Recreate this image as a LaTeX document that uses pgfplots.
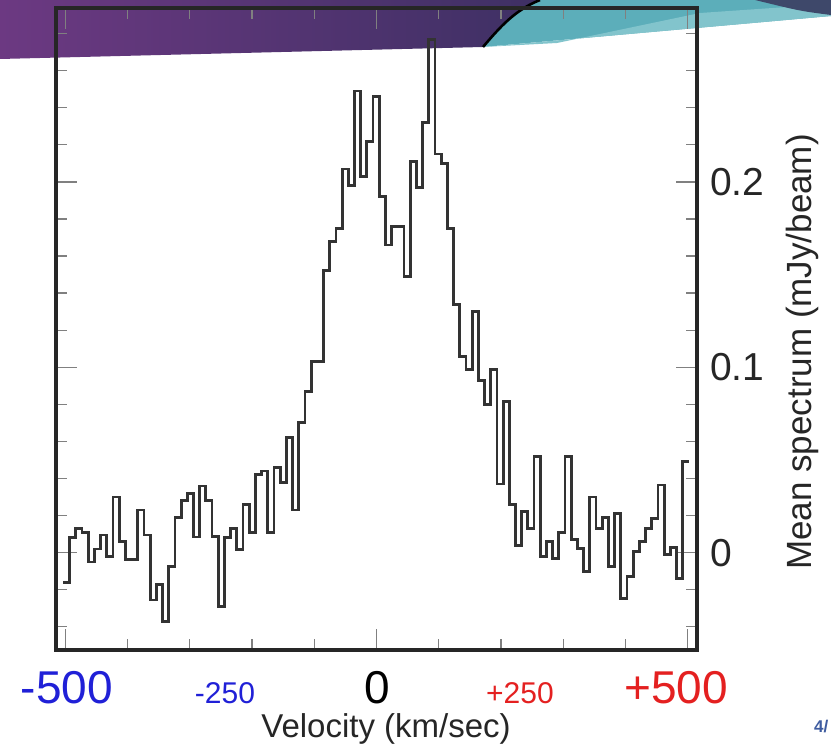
\documentclass[border=0pt]{standalone}
\usepackage{pgfplots}
\pgfplotsset{compat=1.18}
\usepackage{fontspec}
\setmainfont{Liberation Sans}

\definecolor{ribbonL}{RGB}{108,57,130}
\definecolor{ribbonR}{RGB}{62,48,100}
\definecolor{tealD}{RGB}{92,174,186}
\definecolor{tealL}{RGB}{130,196,204}
\definecolor{slate}{RGB}{62,72,106}
\definecolor{tickblue}{RGB}{32,32,215}
\definecolor{tickred}{RGB}{228,32,32}
\definecolor{pagenum}{RGB}{62,92,160}

\begin{document}
\begin{tikzpicture}[x=1pt,y=1pt]
\useasboundingbox (0,0) rectangle (831,750);
\fill[white] (0,0) rectangle (831,750);

% slide decoration behind the plot
\shade[left color=ribbonL, right color=ribbonR]
  (0,750) -- (540,750) .. controls (515,740) and (500,723) .. (483,703) -- (0,691) -- cycle;
\fill[tealD] (483,703) .. controls (500,723) and (515,740) .. (540,750) -- (831,750) -- (831,734) -- cycle;
\fill[tealL] (483,703) -- (831,734) -- (831,746) -- (700,737) -- (557,707) -- cycle;
\fill[slate] (755,750) -- (831,750) -- (831,735) .. controls (800,739) .. (755,750) -- cycle;
\draw[line width=2.6pt, black] (483,703) .. controls (500,723) and (515,740) .. (540,750);

\begin{axis}[
    name=spec,
    at={(56pt,100pt)}, anchor=south west,
    scale only axis, width=641pt, height=642pt,
    xmin=-515, xmax=515,
    ymin=-0.0525, ymax=0.2938,
    xtick={-500,0,500}, xticklabel=\empty,
    minor xtick={-400,-300,-200,-100,100,200,300,400},
    ytick={0,0.1,0.2}, yticklabels={0,0.1,0.2},
    minor ytick={-0.04,-0.02,0.02,0.04,0.06,0.08,0.12,0.14,0.16,0.18,0.22,0.24,0.26,0.28},
    yticklabel pos=right,
    tick align=inside,
    major tick length=21pt, minor tick length=11pt,
    tick style={line width=1.3pt, color=black!50},
    axis line style={line width=3.2pt, color=black!85},
    yticklabel style={anchor=west, inner sep=0pt, xshift=13pt,
        font=\fontsize{39}{39}\selectfont, text=black!85},
]
\addplot[const plot mark left, line width=2.8pt, color=black!80] table {
x y
-503 -0.016
-493.05 0.008
-483.1 0.013
-473.15 0.011
-463.2 -0.005
-453.25 0.002
-443.3 0.0095
-433.35 -0.002
-423.4 0.030
-413.45 0.006
-403.5 -0.0035
-393.55 -0.0035
-383.6 0.023
-373.65 0.0095
-363.7 -0.0255
-353.75 -0.017
-343.8 -0.037
-333.85 -0.0075
-323.9 0.019
-313.95 0.028
-304 0.032
-294.05 0.0085
-284.1 0.036
-274.15 0.028
-264.2 0.0086
-254.25 -0.029
-244.3 0.008
-234.35 0.013
-224.4 0.0015
-214.45 0.026
-204.5 0.011
-194.55 0.042
-184.6 0.044
-174.65 0.011
-164.7 0.046
-154.75 0.038
-144.8 0.062
-134.85 0.023
-124.9 0.070
-114.95 0.087
-105 0.103
-95.05 0.103
-85.1 0.152
-75.15 0.168
-65.2 0.175
-55.25 0.207
-45.3 0.198
-35.35 0.249
-25.4 0.203
-15.45 0.222
-5.5 0.246
4.45 0.192
14.4 0.166
24.35 0.176
34.3 0.176
44.25 0.149
54.2 0.211
64.15 0.197
74.1 0.232
84.05 0.277
94 0.215
103.95 0.210
113.9 0.175
123.85 0.134
133.8 0.106
143.75 0.099
153.7 0.130
163.65 0.093
173.6 0.080
183.55 0.0986
193.5 0.037
203.45 0.0815
213.4 0.026
223.35 0.004
233.3 0.022
243.25 0.013
253.2 0.052
263.15 -0.002
273.1 0.006
283.05 -0.003
293 0.011
302.95 0.052
312.9 0.007
322.85 0.0024
332.8 -0.010
342.75 0.030
352.7 0.013
362.65 0.019
372.6 -0.0075
382.55 0.021
392.5 -0.0246
402.45 -0.013
412.4 0.0005
422.35 0.006
432.3 0.013
442.25 0.0186
452.2 0.0365
462.15 -0.001
472.1 0.003
482.05 -0.014
492 0.049
501.95 0.049
};
\end{axis}

% coloured velocity labels under the axis
\node[anchor=base, font=\fontsize{46}{46}\selectfont, text=tickblue] at (67,46) {-500};
\node[anchor=base, font=\fontsize{30}{30}\selectfont, text=tickblue] at (225,46) {-250};
\node[anchor=base, font=\fontsize{46}{46}\selectfont, text=black] at (377,46) {0};
\node[anchor=base, font=\fontsize{30}{30}\selectfont, text=tickred] at (520,46) {+250};
\node[anchor=base, font=\fontsize{46}{46}\selectfont, text=tickred] at (676,46) {+500};

\node[anchor=base, font=\fontsize{33}{33}\selectfont, text=black!85] at (386,12) {Velocity (km/sec)};
\node[rotate=90, font=\fontsize{35}{35}\selectfont, text=black!85] at (802,398) {Mean spectrum (mJy/beam)};
\node[anchor=base west, inner sep=0pt, font=\bfseries\fontsize{17}{17}\selectfont, text=pagenum] at (814,17) {4/};
\end{tikzpicture}
\end{document}
